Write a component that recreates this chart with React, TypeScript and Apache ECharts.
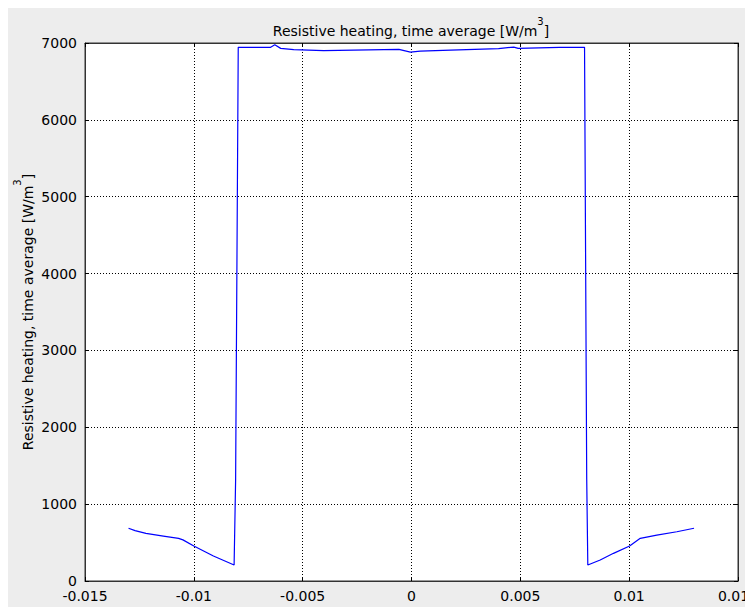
import React, { useEffect, useRef } from "react";
import * as echarts from "echarts";

const titleText = "Resistive heating, time average [W/m{sup|3}]";
const yAxisTitle = "Resistive heating, time average [W/m{sup|3}]";

const xValues = [
  -0.013, -0.0127, -0.0122, -0.0114, -0.0107, -0.0105, -0.01, -0.0091, -0.00815,
  -0.00808, -0.00796, -0.00647, -0.00628, -0.00601, -0.00541, -0.00404, -0.00058,
  -0.00005, 0.0004, 0.0018, 0.004, 0.0047, 0.0049, 0.0068, 0.00795, 0.00805,
  0.0081, 0.00867, 0.00928, 0.01002, 0.01051, 0.01127, 0.01219, 0.01298,
];
const yValues = [
  686, 655, 620, 585, 555, 535, 455, 325, 208,
  1320, 6944, 6944, 6976, 6930, 6913, 6900, 6918,
  6882, 6895, 6908, 6926, 6947, 6931, 6944, 6944, 1323,
  208, 273, 360, 455, 555, 598, 641, 686,
];

const xTickLabels = ["-0.015", "-0.01", "-0.005", "0", "0.005", "0.01", "0.015"];
const yTickLabels = ["0", "1000", "2000", "3000", "4000", "5000", "6000", "7000"];

const FONT = "DejaVu Sans";

export default function App() {
  const ref = useRef<HTMLDivElement>(null);
  useEffect(() => {
    if (!ref.current) return;
    const chart = echarts.init(ref.current, undefined, { renderer: "svg" });
    const xMin = -0.015, xStep = 0.005;
    const yStep = 1000;
    const xLabel = (v: number) => {
      const i = Math.round((v - xMin) / xStep);
      return xTickLabels[i] ?? "";
    };
    const yLabel = (v: number) => {
      const i = Math.round(v / yStep);
      return yTickLabels[i] ?? "";
    };
    const split = { show: true, lineStyle: { color: "#000", type: [1, 2] as any, width: 1 } };
    const richSup = {
      sup: { fontFamily: FONT, fontSize: 10, lineHeight: 12, verticalAlign: "top", color: "#000" },
    };
    const tick = { show: true, inside: true, length: 4, lineStyle: { color: "#000" } };
    const axLine = { show: true, onZero: false, lineStyle: { color: "#333" } };
    chart.setOption({
      animation: false,
      backgroundColor: "#ededed",
      title: {
        text: titleText,
        left: 403,
        top: 8,
        padding: 0,
        textAlign: "center",
        textStyle: {
          fontFamily: FONT,
          fontSize: 14,
          lineHeight: 30,
          fontWeight: "normal",
          color: "#000",
          rich: richSup,
        },
      },
      graphic: [
        {
          type: "text",
          x: 19.5,
          y: 304,
          rotation: Math.PI / 2,
          style: {
            text: yAxisTitle,
            fontFamily: FONT,
            fontSize: 14,
            lineHeight: 30,
            fill: "#000",
            align: "center",
            verticalAlign: "middle",
            rich: {
              sup: { fontFamily: FONT, fontSize: 10, lineHeight: 12, verticalAlign: "top", fill: "#000" },
            },
          },
        },
      ],
      grid: {
        left: 77,
        top: 35,
        right: 15,
        bottom: 26,
        show: true,
        containLabel: false,
        outerBoundsMode: "none",
        backgroundColor: "#fff",
        borderColor: "#333",
        borderWidth: 1,
      },
      xAxis: [
        {
          type: "value",
          min: -0.015,
          max: 0.015,
          interval: 0.005,
          position: "bottom",
          axisLine: axLine,
          axisTick: tick,
          axisLabel: {
            formatter: xLabel,
            fontFamily: FONT,
            fontSize: 14,
            color: "#000",
            margin: 8,
            showMinLabel: true,
            showMaxLabel: true,
          },
          splitLine: split,
        },
        {
          type: "value",
          min: -0.015,
          max: 0.015,
          interval: 0.005,
          position: "top",
          axisLine: axLine,
          axisTick: tick,
          axisLabel: { show: false },
          splitLine: { show: false },
        },
      ],
      yAxis: [
        {
          type: "value",
          min: 0,
          max: 7000,
          interval: 1000,
          position: "left",
          axisLine: axLine,
          axisTick: tick,
          axisLabel: { formatter: yLabel, fontFamily: FONT, fontSize: 14, color: "#000", margin: 8 },
          splitLine: split,
        },
        {
          type: "value",
          min: 0,
          max: 7000,
          interval: 1000,
          position: "right",
          axisLine: axLine,
          axisTick: tick,
          axisLabel: { show: false },
          splitLine: { show: false },
        },
      ],
      series: [
        {
          type: "line",
          data: xValues.map((x, i) => [x, yValues[i]]),
          showSymbol: false,
          symbol: "none",
          lineStyle: { color: "#0000ff", width: 1.2 },
          xAxisIndex: 0,
          yAxisIndex: 0,
        },
      ],
    });
    return () => chart.dispose();
  }, []);
  return <div ref={ref} style={{ width: 745, height: 599 }} />;
}
